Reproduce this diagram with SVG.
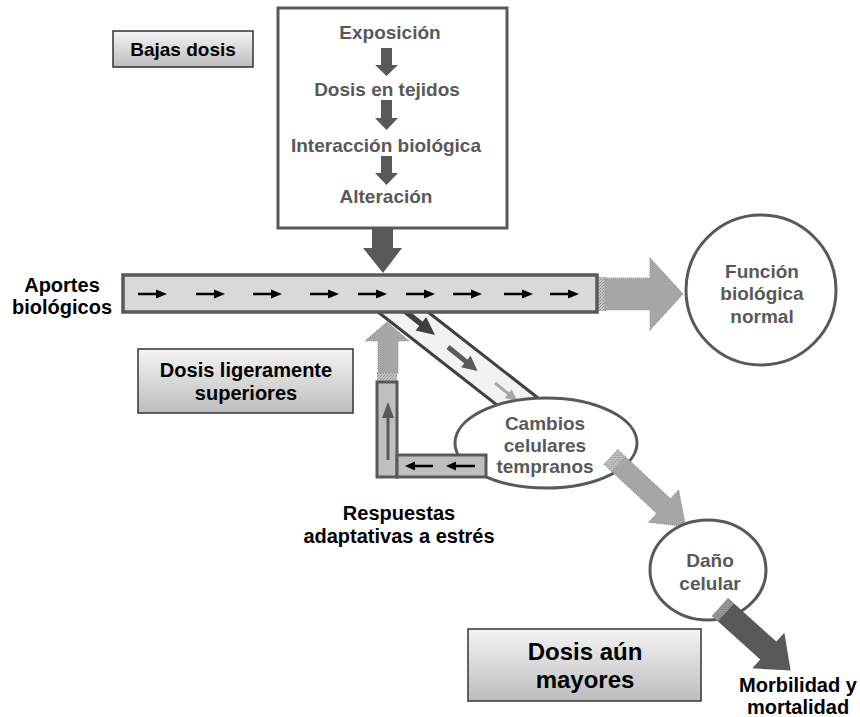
<svg xmlns="http://www.w3.org/2000/svg" width="860" height="717" viewBox="0 0 860 717">
  <style>
    text { font-family: "Liberation Sans", Arial, sans-serif; font-weight: bold; text-anchor: middle; }
    .g { fill: #595959; font-size: 19px; }
    .k { fill: #000; font-size: 20px; }
    .tag { fill: url(#tagFill); stroke: #333; stroke-width: 1.5; }
    .node { fill: #fff; stroke: #595959; stroke-width: 3; }
    .bar { fill: #d9d9d9; stroke: #595959; stroke-width: 3.5; }
    .lbar { fill: #bfbfbf; stroke: #595959; stroke-width: 3; }
    .soft { fill: #a6a6a6; stroke: #999; stroke-width: 1.2; stroke-dasharray: 1 1; }
    .dark { fill: #595959; }
    .tiny { stroke: #000; stroke-width: 2.5; }
  </style>
  <defs>
    <linearGradient id="tagFill" x1="0" y1="0" x2="0" y2="1">
      <stop offset="0" stop-color="#f4f4f4"/>
      <stop offset="1" stop-color="#bdbdbd"/>
    </linearGradient>
    <pattern id="grain" width="3" height="3" patternUnits="userSpaceOnUse">
      <rect width="3" height="3" fill="#c4c4c4"/>
      <rect width="1" height="1" fill="#8a8a8a"/>
      <rect x="2" y="1" width="1" height="1" fill="#9c9c9c"/>
      <rect x="1" y="2" width="1" height="1" fill="#a8a8a8"/>
    </pattern>
    <!-- small black arrow used along the input bar -->
    <g id="tick">
      <line x1="0" y1="0" x2="20" y2="0" class="tiny"/>
      <polygon points="18,-4.5 29,0 18,4.5" fill="#000"/>
    </g>
  </defs>

  <!-- connectors -->
  <g id="connectors">
    <!-- diagonal channel from the bar to early cellular changes -->
    <polygon points="362.6,300 412.6,300 559.8,415 509.8,415" fill="#f2f2f2"/>
    <line x1="378" y1="312" x2="509.8" y2="415" stroke="#404040" stroke-width="3"/>
    <line x1="428" y1="312" x2="559.8" y2="415" stroke="#404040" stroke-width="3"/>
    <!-- arrows inside the channel -->
    <g transform="translate(381,292) rotate(38.5)">
      <line x1="0" y1="0" x2="54" y2="0" stroke="#404040" stroke-width="5.5"/>
      <polygon points="51,-8.5 69,0 51,8.5" fill="#404040"/>
    </g>
    <g transform="translate(448,347) rotate(39)">
      <line x1="0" y1="0" x2="26" y2="0" stroke="#595959" stroke-width="5"/>
      <polygon points="23,-7.5 38,0 23,7.5" fill="#595959"/>
    </g>
    <g transform="translate(495,383) rotate(39)">
      <line x1="0" y1="0" x2="19" y2="0" stroke="#a6a6a6" stroke-width="3"/>
      <polygon points="17,-5.5 29,0 17,5.5" fill="#a6a6a6"/>
    </g>

    <!-- top box down to the bar -->
    <polygon points="372,228 393,228 393,248 402,248 383,273 363,248 372,248" class="dark"/>

    <!-- bar to normal function -->
    <rect x="596" y="277" width="10" height="34" fill="url(#grain)"/>
    <polygon points="605,278 650,278 650,258 683,294 650,330 650,310 605,310" class="soft"/>

    <!-- adaptive response back up to the bar -->
    <rect x="377" y="372" width="20" height="11" fill="url(#grain)"/>
    <polygon points="378,373 378,341 365,341 387,322 409,341 398,341 398,373" class="soft"/>
  </g>

  <!-- main input bar -->
  <g id="aportes">
    <rect x="123" y="275" width="474" height="37" class="bar"/>
    <use href="#tick" x="138" y="294"/>
    <use href="#tick" x="196" y="294"/>
    <use href="#tick" x="253" y="294"/>
    <use href="#tick" x="310" y="294"/>
    <use href="#tick" x="358" y="294"/>
    <use href="#tick" x="406" y="294"/>
    <use href="#tick" x="453" y="294"/>
    <use href="#tick" x="504" y="294"/>
    <use href="#tick" x="550" y="294"/>
    <text class="k" x="62" y="292">Aportes</text>
    <text class="k" x="62" y="314">biológicos</text>
  </g>

  <!-- exposure chain -->
  <g id="exposicion">
    <rect x="278" y="8" width="229" height="220" class="node"/>
    <text class="g" x="390" y="39">Exposición</text>
    <polygon points="381,48 392,48 392,65 398,65 386.5,76 375,65 381,65" class="dark"/>
    <text class="g" x="387" y="96">Dosis en tejidos</text>
    <polygon points="381,100 392,100 392,118 398,118 386.5,130 375,118 381,118" class="dark"/>
    <text class="g" x="386" y="152">Interacción biológica</text>
    <polygon points="381,156 392,156 392,173 398,173 386.5,185 375,173 381,173" class="dark"/>
    <text class="g" x="386" y="203">Alteración</text>
  </g>

  <g id="bajas-dosis">
    <rect x="113" y="31" width="140" height="36" class="tag"/>
    <text x="183" y="56" style="font-size:19px">Bajas dosis</text>
  </g>

  <g id="funcion-normal">
    <circle cx="761" cy="290" r="75" class="node"/>
    <text class="g" x="762" y="278">Función</text>
    <text class="g" x="762" y="300">biológica</text>
    <text class="g" x="762" y="323">normal</text>
  </g>

  <g id="dosis-ligeramente">
    <rect x="138" y="349" width="215" height="64" class="tag"/>
    <text class="k" x="246" y="377">Dosis ligeramente</text>
    <text class="k" x="246" y="400">superiores</text>
  </g>

  <g id="cambios-celulares">
    <ellipse cx="546" cy="443" rx="91" ry="45" class="node"/>
    <text class="g" x="545" y="430">Cambios</text>
    <text class="g" x="545" y="452">celulares</text>
    <text class="g" x="545" y="473">tempranos</text>
  </g>

  <!-- adaptive stress response loop -->
  <g id="respuestas-adaptativas">
    <rect x="377" y="382" width="20" height="95" class="lbar"/>
    <rect x="397" y="455" width="89" height="22" class="lbar"/>
    <line x1="388" y1="460" x2="388" y2="416" stroke="#595959" stroke-width="3"/>
    <polygon points="382,418 388,402 394,418" fill="#595959"/>
    <line x1="433" y1="466" x2="414" y2="466" class="tiny"/>
    <polygon points="415,461.5 405,466 415,470.5" fill="#000"/>
    <line x1="475" y1="466" x2="455" y2="466" class="tiny"/>
    <polygon points="456,461.5 446,466 456,470.5" fill="#000"/>
    <text class="k" x="399" y="520">Respuestas</text>
    <text class="k" x="399" y="543">adaptativas a estrés</text>
  </g>

  <!-- early changes to cell damage -->
  <g id="to-dano" transform="translate(611,457) rotate(43)">
    <polygon points="0,-10 72,-10 72,-22 102,0 72,22 72,10 0,10" class="soft"/>
    <rect x="0" y="-10" width="10" height="20" fill="url(#grain)"/>
  </g>

  <g id="dano-celular">
    <ellipse cx="708" cy="570" rx="58" ry="50" class="node"/>
    <text class="g" x="710" y="567">Daño</text>
    <text class="g" x="710" y="590">celular</text>
  </g>

  <!-- cell damage to morbidity -->
  <g id="to-morbilidad" transform="translate(720,607) rotate(42)">
    <polygon points="0,-12 65,-12 65,-24 95,0 65,24 65,12 0,12" class="dark"/>
    <rect x="0" y="-12" width="8" height="24" fill="url(#grain)" opacity="0.6"/>
  </g>

  <g id="dosis-mayores">
    <rect x="468" y="629" width="233" height="72" class="tag"/>
    <text x="585" y="660" style="font-size:24px">Dosis aún</text>
    <text x="585" y="688" style="font-size:24px">mayores</text>
  </g>

  <g id="morbilidad">
    <text class="k" x="798" y="692">Morbilidad y</text>
    <text class="k" x="798" y="714">mortalidad</text>
  </g>
</svg>
